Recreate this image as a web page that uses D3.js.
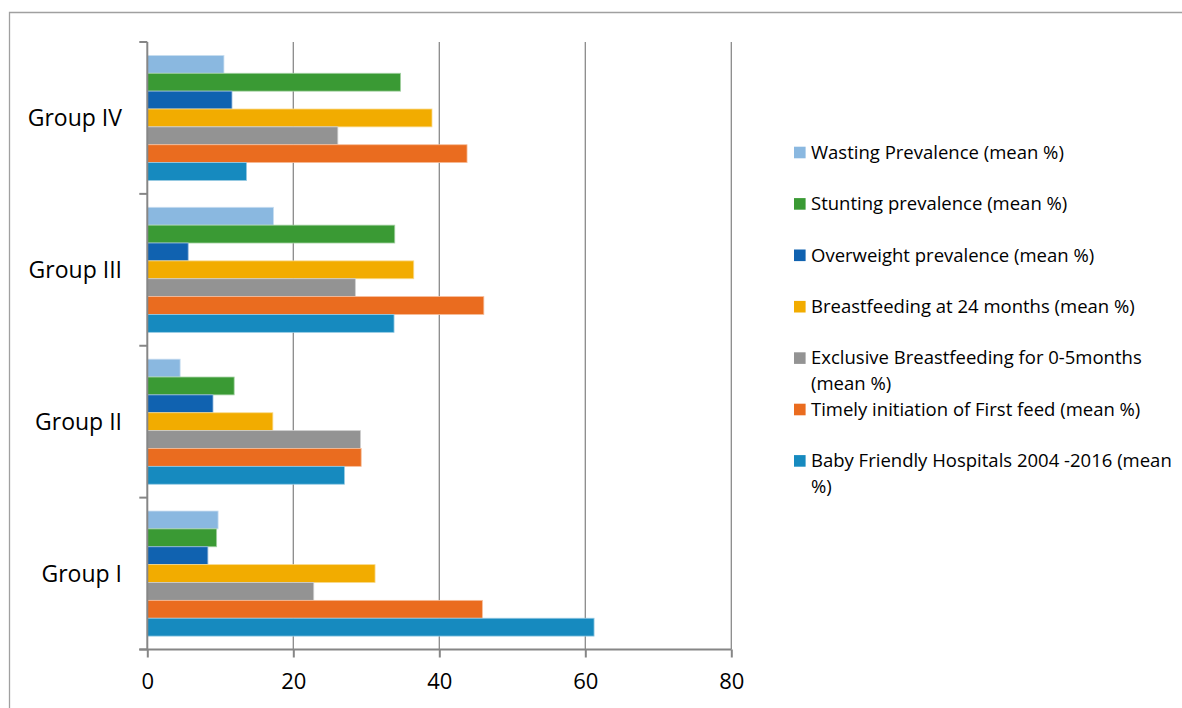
<!DOCTYPE html>
<html>
<head>
<meta charset="utf-8">
<script src="https://cdn.jsdelivr.net/npm/d3@7"></script>
<style>
  html, body { margin: 0; padding: 0; background: #fff; }
  svg { display: block; font-family: "Open Sans", "Noto Sans", sans-serif; }
</style>
</head>
<body>
<svg id="chart" width="1182" height="708"></svg>
<script>
// Groups, top to bottom on the category axis
const groups = ["Group IV", "Group III", "Group II", "Group I"];

// Indicators, in the order the bars stack inside each group (top to bottom)
const seriesNames = [
  "Wasting Prevalence (mean %)",
  "Stunting prevalence (mean %)",
  "Overweight prevalence (mean %)",
  "Breastfeeding at 24 months (mean %)",
  "Exclusive Breastfeeding for 0-5months (mean %)",
  "Timely initiation of First feed (mean %)",
  "Baby Friendly Hospitals 2004 -2016 (mean %)"
];

// Legend text split into lines as wrapped on the page
const legendLines = [
  ["Wasting Prevalence (mean %)"],
  ["Stunting prevalence (mean %)"],
  ["Overweight prevalence (mean %)"],
  ["Breastfeeding at 24 months (mean %)"],
  ["Exclusive Breastfeeding for 0-5months", "(mean %)"],
  ["Timely initiation of First feed (mean %)"],
  ["Baby Friendly Hospitals 2004 -2016 (mean", "%)"]
];

const seriesColors = ["#8ab8e0", "#3a9a34", "#1062b0", "#f2ac00", "#939393", "#ea6c1f", "#168abf"];

// Values per series, in the order of `groups` (IV, III, II, I)
const wasting      = [10.5, 17.3, 4.5, 9.7];
const stunting     = [34.7, 33.9, 11.9, 9.5];
const overweight   = [11.6, 5.6, 9.0, 8.3];
const bf24         = [39.0, 36.5, 17.2, 31.2];
const exclusiveBf  = [26.1, 28.5, 29.2, 22.8];
const timelyInit   = [43.8, 46.1, 29.3, 45.9];
const babyFriendly = [13.6, 33.8, 27.0, 61.2];

const seriesValues = [wasting, stunting, overweight, bf24, exclusiveBf, timelyInit, babyFriendly];

const xTicks = [0, 20, 40, 60, 80];

const svg = d3.select("#chart");

// Outer chart frame (top and left edges visible)
svg.append("path")
  .attr("d", "M9.5,708 L9.5,12.5 L1182,12.5")
  .attr("fill", "none")
  .attr("stroke", "#a0a0a0")
  .attr("stroke-width", 1.3);

const plot = { left: 147.3, right: 731.3, top: 42, bottom: 649.5 };

const x = d3.scaleLinear().domain([0, 80]).range([plot.left, plot.right]);
const y0 = d3.scaleBand().domain(groups).range([plot.top, plot.bottom]).padding(0);
const y1 = d3.scaleBand().domain(d3.range(seriesNames.length))
  .range([0, y0.bandwidth()]).paddingInner(0).paddingOuter(0.75);

// Vertical gridlines
svg.append("g")
  .selectAll("line")
  .data(xTicks.filter(d => d > 0))
  .join("line")
  .attr("x1", d => x(d)).attr("x2", d => x(d))
  .attr("y1", plot.top).attr("y2", plot.bottom)
  .attr("stroke", "#8a8a8a")
  .attr("stroke-width", 1.3);

// Bars
const gGroups = svg.append("g")
  .selectAll("g")
  .data(groups)
  .join("g")
  .attr("transform", g => `translate(0,${y0(g)})`);

gGroups.selectAll("rect")
  .data((g, gi) => seriesValues.map((vals, si) => ({ si, v: vals[gi] })))
  .join("rect")
  .attr("x", x(0))
  .attr("y", d => y1(d.si))
  .attr("width", d => x(d.v) - x(0))
  .attr("height", y1.bandwidth())
  .attr("fill", d => seriesColors[d.si])
  .attr("stroke", d => d3.interpolateRgb(seriesColors[d.si], "#ffffff")(0.55))
  .attr("stroke-width", 0.8);

// Category axis (left)
const yAxis = svg.append("g");
yAxis.append("line")
  .attr("x1", plot.left).attr("x2", plot.left)
  .attr("y1", plot.top).attr("y2", plot.bottom)
  .attr("stroke", "#868686").attr("stroke-width", 2);
const boundaries = groups.map(g => y0(g)).concat([plot.bottom]);
yAxis.selectAll("line.tick")
  .data(boundaries)
  .join("line")
  .attr("class", "tick")
  .attr("x1", plot.left - 8).attr("x2", plot.left)
  .attr("y1", d => d).attr("y2", d => d)
  .attr("stroke", "#868686").attr("stroke-width", 2);
yAxis.selectAll("text")
  .data(groups)
  .join("text")
  .attr("x", 122)
  .attr("y", g => y0(g) + y0.bandwidth() / 2)
  .attr("dy", "0.35em")
  .attr("text-anchor", "end")
  .attr("font-size", 23)
  .attr("fill", "#000")
  .text(g => g);

// Value axis (bottom)
const xAxis = svg.append("g").attr("transform", `translate(0,${plot.bottom})`)
  .call(d3.axisBottom(x).tickValues(xTicks).tickSize(8).tickPadding(16).tickSizeOuter(0));
xAxis.select(".domain").attr("stroke", "#868686").attr("stroke-width", 2)
  .attr("d", `M${plot.left - 8},0H${plot.right}`);
xAxis.selectAll(".tick line").attr("stroke", "#868686").attr("stroke-width", 2);
xAxis.selectAll(".tick text")
  .attr("font-family", "Open Sans, Noto Sans, sans-serif")
  .attr("font-size", 22)
  .attr("fill", "#000");

// Legend
const legend = svg.append("g");
const legendTop = 152.5, legendStep = 51.4;
legendLines.forEach((lines, i) => {
  const cy = legendTop + i * legendStep;
  legend.append("rect")
    .attr("x", 794).attr("y", cy - 5.8)
    .attr("width", 11.6).attr("height", 11.6)
    .attr("fill", seriesColors[i]);
  const t = legend.append("text")
    .attr("x", 811)
    .attr("y", cy + 6.3)
    .attr("font-size", 18.5)
    .attr("fill", "#000");
  lines.forEach((ln, k) => {
    t.append("tspan").attr("x", 811).attr("dy", k === 0 ? 0 : 25.5).text(ln);
  });
});
</script>
</body>
</html>
